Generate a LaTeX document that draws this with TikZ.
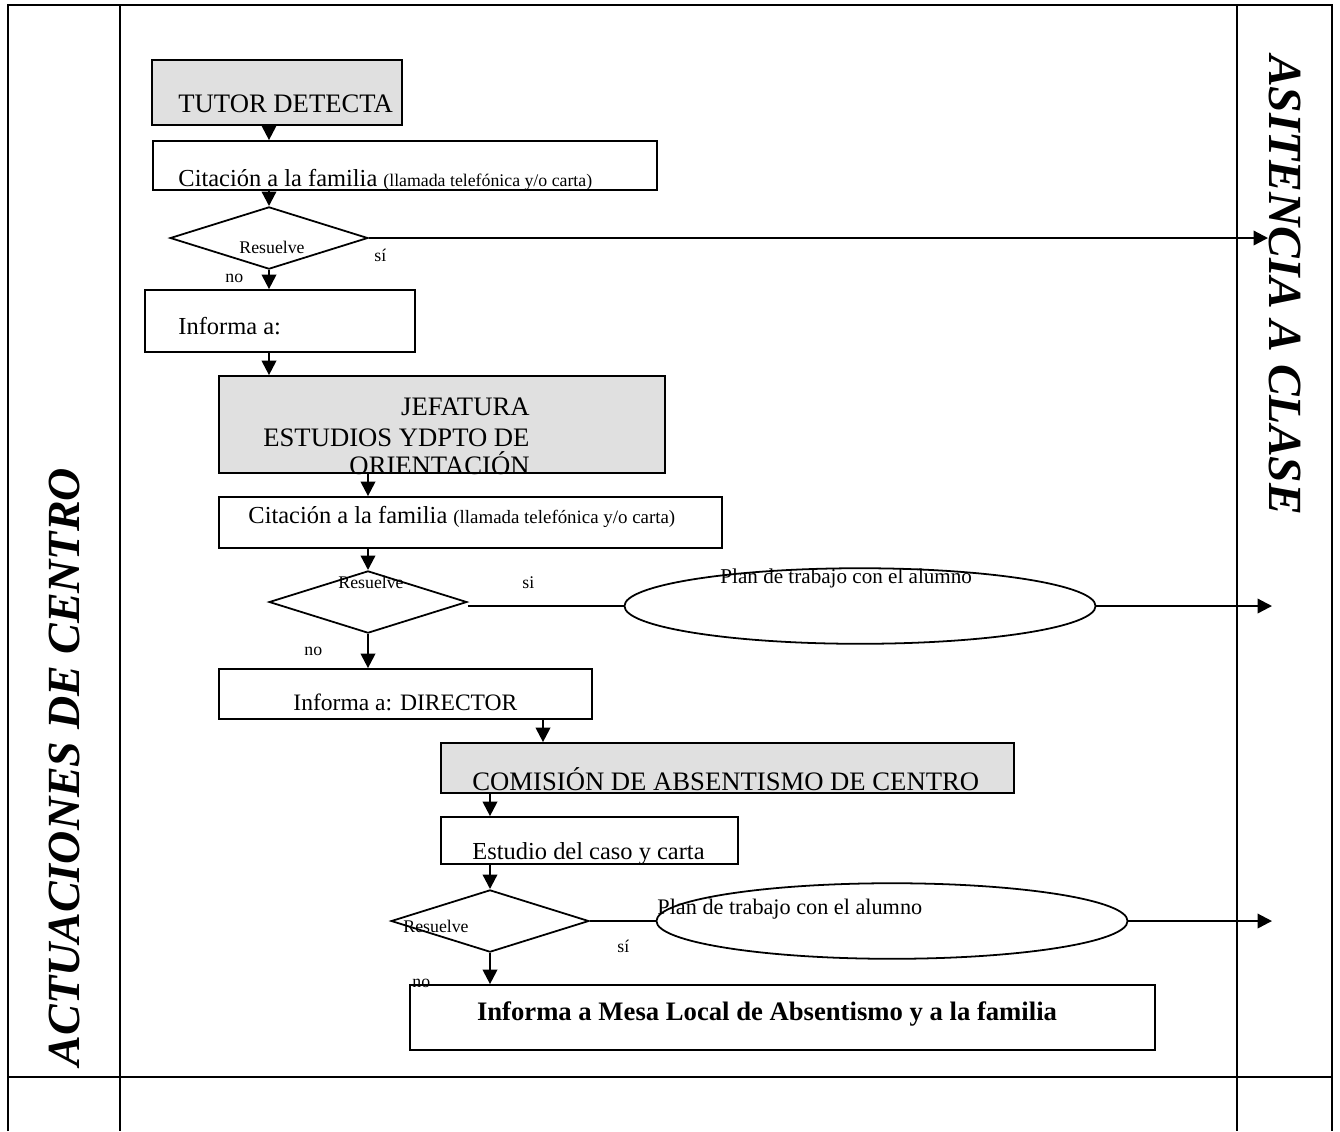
\documentclass[tikz,border=0pt]{standalone}
\usepackage{fontspec}
\setmainfont{Liberation Serif}
\usetikzlibrary{positioning,shapes.geometric,arrows.meta,fit}
\definecolor{boxgrey}{gray}{0.88}

\begin{document}
\begin{tikzpicture}[x=0.45pt,y=-0.45pt,
  box/.style={draw,line width=0.8pt,inner sep=0pt},
  greybox/.style={box,fill=boxgrey},
  decide/.style={diamond,draw,line width=0.8pt,inner sep=0pt,minimum width=89pt,minimum height=28pt},
  plan/.style={ellipse,draw,line width=0.8pt,fill=white,inner sep=0pt,minimum width=212pt,minimum height=34pt},
  arr/.style={line width=1pt,-{Triangle[width=6.5pt,length=6.5pt]}},
  txt/.style={anchor=base west,inner sep=0pt,font=\fontsize{12}{14}\selectfont},
  mid/.style={txt,font=\fontsize{11}{13}\selectfont},
  small/.style={anchor=base west,inner sep=0pt,font=\fontsize{8}{9}\selectfont},
  side/.style={inner sep=0pt,font=\bfseries\itshape\fontsize{21}{24}\selectfont}]
\useasboundingbox (0,0) rectangle (1340,1131);
% table
\draw[line width=0.9pt] (8,1131)--(8,5)--(1332,5)--(1332,1131);
\draw[line width=0.9pt] (120,5)--(120,1131) (1237,5)--(1237,1131) (8,1077)--(1332,1077);
\node[side,rotate=90,font=\bfseries\itshape\fontsize{20.7}{24}\selectfont] (centro) at (64,767) {ACTUACIONES DE CENTRO};
\node[side,rotate=-90,font=\bfseries\itshape\fontsize{21.4}{24}\selectfont] (clase) at (1285,285) {ASITENCIA A CLASE};

% tutor
\node[greybox,fit={(152,60) (402,125)}] (tutor) {};
\node[txt] at (178,112) {TUTOR DETECTA};
\node[box,fit={(153,141) (657,190)}] (cit1) {};
\node[mid] at (178,186) {Citación a la familia {\fontsize{8}{9}\selectfont(llamada telefónica y/o carta)}};
\node[decide] (d1) at (269,238) {};
\node[small] at (239,253) {Resuelve};
\node[small] at (374,261) {sí};
\node[small] at (225,282) {no};
\node[box,fit={(145,290) (415,352)}] (inf1) {};
\node[mid] at (178,334) {Informa a:};
\coordinate (out1) at (1268,238);

\draw[arr] (tutor.south -| d1.north)--(cit1.north -| d1.north);
\draw[arr] (cit1.south -| d1.north)--(d1.north);
\draw[arr] (d1.east)--(out1);
\draw[arr] (d1.south)--(inf1.north -| d1.south);

% jefatura
\node[greybox,fit={(219,376) (665,473)}] (jef) {};
\node[txt,anchor=base east] at (530,415) {JEFATURA};
\node[txt,anchor=base east] at (530,446) {ESTUDIOS YDPTO DE};
\node[txt,anchor=base east] at (530,474) {ORIENTACIÓN};
\node[box,fit={(219,497) (722,548)}] (cit2) {};
\node[mid] at (248,523) {Citación a la familia {\fontsize{8.5}{9}\selectfont(llamada telefónica y/o carta)}};
\node[decide] (d2) at (368,602) {};
\node[small] at (338,588) {Resuelve};
\node[small] at (522,588) {si};
\node[small] at (304,655) {no};
\node[plan] (plan1) at (860,606) {};
\node[small,font=\fontsize{9.5}{10}\selectfont] at (720,583) {Plan de trabajo con el alumno};
\node[box,fit={(219,669) (592,719)}] (dir) {};
\node[txt,font=\fontsize{10.6}{13}\selectfont] at (293,710) {Informa a: DIRECTOR};
\coordinate (out2) at (1272,606);

\draw[arr] (inf1.south -| d1.south)--(jef.north -| d1.south);
\draw[arr] (jef.south -| d2.north)--(cit2.north -| d2.north);
\draw[arr] (cit2.south -| d2.north)--(d2.north);
\draw[line width=1pt] (d2.east |- plan1.west)--(plan1.west);
\draw[arr] (plan1.east)--(out2);
\draw[arr] (d2.south)--(dir.north -| d2.south);

% comision
\node[greybox,fit={(441,743) (1014,793)}] (com) {};
\node[txt] at (472,790) {COMISIÓN DE ABSENTISMO DE CENTRO};
\node[box,fit={(441,817) (738,864)}] (est) {};
\node[mid] at (472,859) {Estudio del caso y carta};
\node[decide] (d3) at (490,921) {};
\node[small] at (403,932) {Resuelve};
\node[small] at (617,952) {sí};
\node[small] at (412,987) {no};
\node[plan] (plan2) at (892,921) {};
\node[small,font=\fontsize{10}{11}\selectfont] at (657,914) {Plan de trabajo con el alumno};
\node[box,fit={(410,985) (1155,1050)}] (mesa) {};
\node[txt,anchor=base,font=\bfseries\fontsize{12}{14}\selectfont] at (767,1020) {Informa a Mesa Local de Absentismo y a la familia};
\coordinate (out3) at (1272,921);
\coordinate (k) at (543,0);

\draw[arr] (dir.south -| k)--(com.north -| k);
\draw[arr] (com.south -| d3.north)--(est.north -| d3.north);
\draw[arr] (est.south -| d3.north)--(d3.north);
\draw[line width=1pt] (d3.east)--(plan2.west);
\draw[arr] (plan2.east)--(out3);
\draw[arr] (d3.south)--(mesa.north -| d3.south);
\end{tikzpicture}
\end{document}
